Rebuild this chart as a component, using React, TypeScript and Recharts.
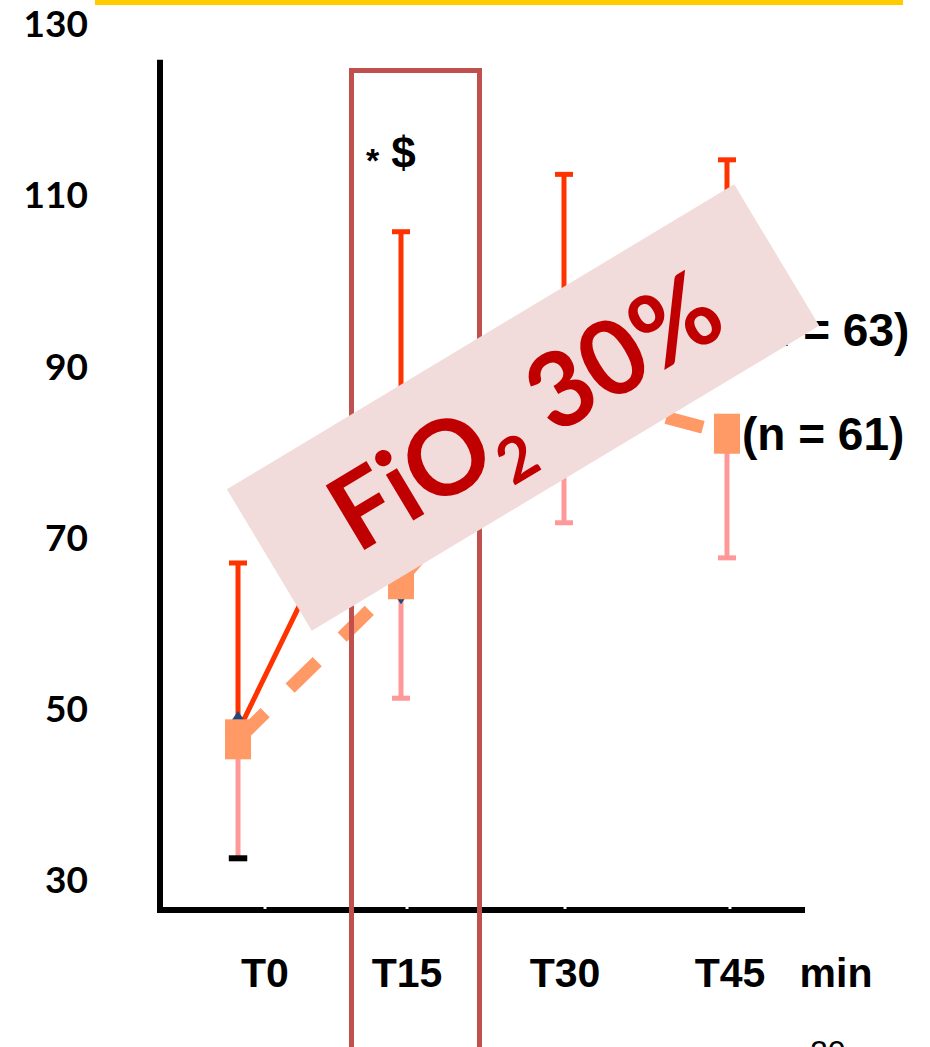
import React from "react";
import {
  LineChart,
  Line,
  XAxis,
  YAxis,
  ErrorBar,
  ReferenceLine,
  LabelList,
  Label,
} from "recharts";

// Time points (minutes) and their labels
const minutes = [0, 15, 30, 45];
const timeLabels = ["T0", "T15", "T30", "T45"];
const yTicks = [30, 50, 70, 90, 110, 130];

// Group n = 63 : red solid line, SD drawn upward
const redMean = [47.1, 86.2, 92, 94];
const redSd = [19.7, 19.3, 20.2, 19.9];

// Group n = 61 : salmon dashed line with squares, SD drawn downward
const salmonMean = [46.2, 64.9, 87, 81.9];
const salmonSd = [13.9, 13.9, 15.5, 14.5];

// dark blue diamonds peeking out from under the squares
const blueMean: (number | null)[] = [47.3, 64.2, null, null];

const groupLabels = ["(n = 63)", "(n = 61)"];

const X_DOMAIN: [number, number] = [-7.18, 52.18];
const Y_DOMAIN: [number, number] = [26.26, 130];
const Y_AXIS_TOP = 125.6;

// label text boxes sit a little right of the points in the original
const tickNudge = [27, 6, 1, 3];

const data = minutes.map((m, i) => ({
  min: m,
  red: redMean[i],
  redErr: [0, redSd[i]],
  salmon: salmonMean[i],
  salmonErr: [salmonSd[i], 0],
  blue: blueMean[i],
}));

const ARIAL = "'Liberation Sans', Arial, sans-serif";

const XTick = (props: any) => {
  const { x, y, index } = props;
  const cx = x + (tickNudge[index] || 0);
  return (
    <g>
      <rect x={cx - 1.5} y={y - 4} width={3} height={3} fill="#fff" />
      <text
        x={cx}
        y={y + 63}
        textAnchor="middle"
        dominantBaseline="central"
        fontFamily={ARIAL}
        fontWeight={700}
        fontSize={41}
        fill="#000"
      >
        {timeLabels[index]}
      </text>
    </g>
  );
};

const SquareDot = (props: any) => {
  const { cx, cy, index } = props;
  if (cx == null || cy == null) return <g key={index} />;
  return <rect key={index} x={cx - 13} y={cy - 20} width={26} height={40} fill="#FF9966" />;
};

const DiamondDot = (props: any) => {
  const { cx, cy, index } = props;
  if (cx == null || cy == null) return <g key={index} />;
  return (
    <polygon
      key={index}
      points={`${cx},${cy - 19} ${cx + 13},${cy} ${cx},${cy + 19} ${cx - 13},${cy}`}
      fill="#1F497D"
    />
  );
};

const groupLabel = (text: string, dx: number) => (props: any) => {
  const { x, y, index } = props;
  if (index !== minutes.length - 1) return null;
  return (
    <text
      x={x + dx}
      y={y}
      dominantBaseline="central"
      fontFamily={ARIAL}
      fontWeight={700}
      fontSize={46}
      fill="#000"
    >
      {text}
    </text>
  );
};

const MinLabel = (props: any) => {
  const { viewBox } = props;
  return (
    <text
      x={viewBox.x + viewBox.width + 31}
      y={viewBox.y + 63}
      textAnchor="middle"
      dominantBaseline="central"
      fontFamily={ARIAL}
      fontWeight={700}
      fontSize={41}
      fill="#000"
    >
      min
    </text>
  );
};

export default function App() {
  return (
    <div
      style={{
        position: "absolute",
        left: 0,
        top: 0,
        width: 930,
        height: 1047,
        overflow: "hidden",
        background: "#fff",
      }}
    >
      <LineChart
        width={930}
        height={1047}
        data={data}
        margin={{ top: 22, right: 125, bottom: 107, left: 100 }}
      >
        <XAxis
          dataKey="min"
          type="number"
          domain={X_DOMAIN}
          allowDataOverflow
          ticks={minutes}
          height={30}
          tickSize={0}
          tickMargin={0}
          tickLine={false}
          axisLine={{ stroke: "#000", strokeWidth: 6 }}
          tick={(p: any) => <XTick {...p} />}
        >
          <Label content={<MinLabel />} />
        </XAxis>
        <YAxis
          type="number"
          domain={Y_DOMAIN}
          allowDataOverflow
          ticks={yTicks}
          width={60}
          tickSize={0}
          tickMargin={72}
          tickLine={false}
          axisLine={false}
          tick={{ fontFamily: "Lato, sans-serif", fontWeight: 700, fontSize: 37, fill: "#000", dy: 2 }}
        />
        <ReferenceLine
          segment={[
            { x: X_DOMAIN[0], y: Y_DOMAIN[0] - 0.35 },
            { x: X_DOMAIN[0], y: Y_AXIS_TOP },
          ]}
          stroke="#000"
          strokeWidth={6}
          ifOverflow="visible"
        />
        <Line
          dataKey="blue"
          stroke="none"
          dot={(p: any) => <DiamondDot {...p} />}
          activeDot={false}
          isAnimationActive={false}
        />
        <Line
          dataKey="red"
          stroke="#FF3300"
          strokeWidth={5}
          dot={false}
          activeDot={false}
          isAnimationActive={false}
        >
          <ErrorBar dataKey="redErr" direction="y" width={9} strokeWidth={5} stroke="#FF3300" isAnimationActive={false} />
          <LabelList dataKey="red" content={groupLabel(groupLabels[0], 20)} />
        </Line>
        <Line
          dataKey="salmon"
          stroke="#FF9966"
          strokeWidth={13}
          strokeDasharray="38 35"
          dot={(p: any) => <SquareDot {...p} />}
          activeDot={false}
          isAnimationActive={false}
        >
          <ErrorBar dataKey="salmonErr" direction="y" width={9} strokeWidth={5} stroke="#FF9999" isAnimationActive={false} />
          <LabelList dataKey="salmon" content={groupLabel(groupLabels[1], 15)} />
        </Line>
        <ReferenceLine
          segment={[
            { x: minutes[0] - 0.85, y: salmonMean[0] - salmonSd[0] },
            { x: minutes[0] + 0.85, y: salmonMean[0] - salmonSd[0] },
          ]}
          stroke="#000"
          strokeWidth={6}
          ifOverflow="visible"
        />
      </LineChart>

      {/* slide decorations */}
      <div
        style={{
          position: "absolute",
          left: 95,
          top: 0,
          width: 808,
          height: 5,
          background: "#FFCC00",
        }}
      />
      <div
        style={{
          position: "absolute",
          left: 349,
          top: 68,
          width: 133,
          height: 1100,
          border: "5px solid #C0504D",
          boxSizing: "border-box",
        }}
      />
      <div
        style={{
          position: "absolute",
          left: 366,
          top: 128,
          fontFamily: ARIAL,
          fontWeight: 700,
          color: "#000",
          whiteSpace: "nowrap",
        }}
      >
        <span style={{ fontSize: 34, position: "relative", top: 4 }}>*</span>
        <span style={{ fontSize: 44, marginLeft: 12 }}>$</span>
      </div>
      <div
        style={{
          position: "absolute",
          left: 227,
          top: 325,
          width: 592,
          height: 165,
          background: "#F2DCDB",
          transform: "rotate(-31deg)",
          display: "flex",
          alignItems: "center",
          justifyContent: "center",
          fontFamily: "Lato, sans-serif",
          fontWeight: 700,
          fontSize: 104,
          color: "#C00000",
          whiteSpace: "nowrap",
          lineHeight: 1,
        }}
      >
        <span>
          FiO
          <span style={{ fontSize: 62, position: "relative", top: 22 }}>2</span>
          {" 30%"}
        </span>
      </div>
      <div
        style={{
          position: "absolute",
          left: 810,
          top: 1036,
          fontFamily: ARIAL,
          fontSize: 32,
          lineHeight: "32px",
          color: "#000",
        }}
      >
        20
      </div>
    </div>
  );
}
